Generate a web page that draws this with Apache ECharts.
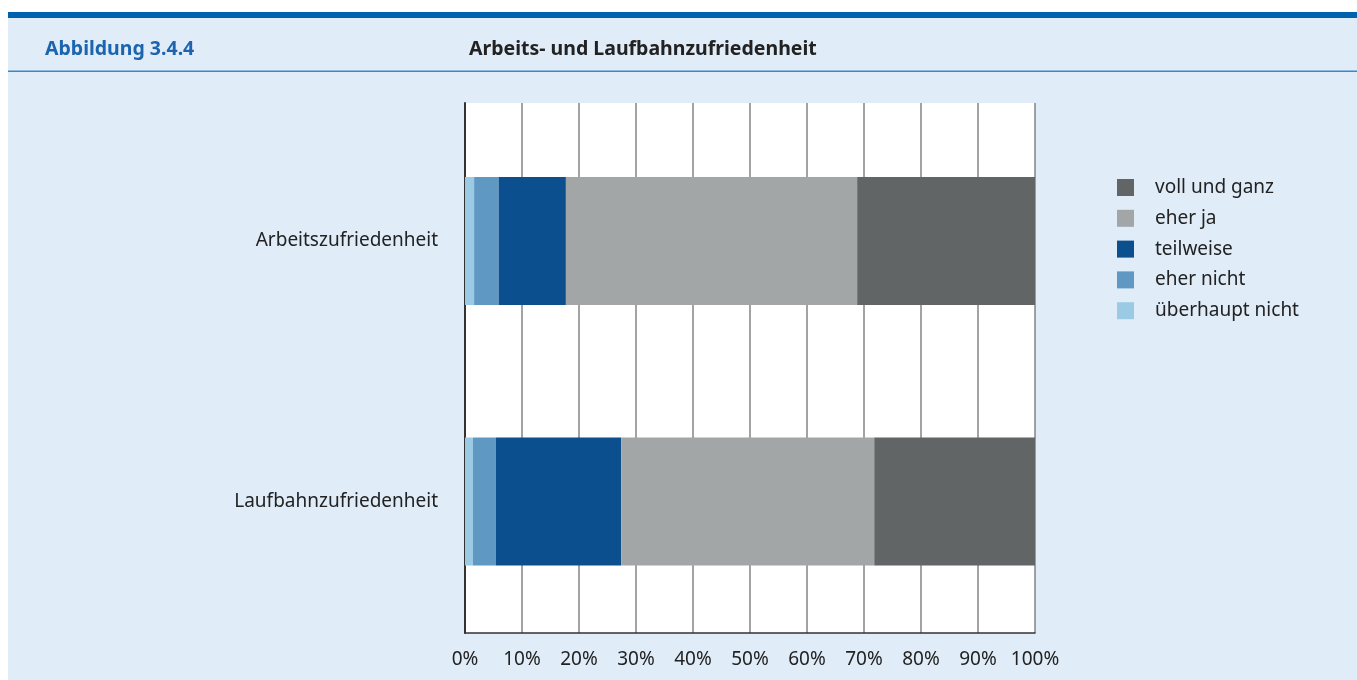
<!DOCTYPE html>
<html>
<head>
<meta charset="utf-8">
<script src="https://cdn.jsdelivr.net/npm/echarts@6/dist/echarts.min.js"></script>
<style>
  html, body { margin: 0; padding: 0; background: #ffffff; }
  #chart { width: 1357px; height: 680px; }
</style>
</head>
<body>
<div id="chart"></div>
<script>
// Survey categories (top to bottom)
const categories = ['Arbeitszufriedenheit', 'Laufbahnzufriedenheit'];

// Shares in percent per answer option, one value per category
const ueberhauptNicht = [1.6, 1.4];
const eherNicht = [4.3, 4.0];
const teilweise = [11.8, 22.0];
const eherJa = [51.1, 44.4];
const vollUndGanz = [31.2, 28.2];

// Axis tick labels
const tickValues = [0, 10, 20, 30, 40, 50, 60, 70, 80, 90, 100];

const FONT = '"Noto Sans", "Open Sans", sans-serif';

const seriesDefs = [
  { name: 'überhaupt nicht', data: ueberhauptNicht, color: '#9bcbe4' },
  { name: 'eher nicht', data: eherNicht, color: '#5f98c2' },
  { name: 'teilweise', data: teilweise, color: '#0b4f8f' },
  { name: 'eher ja', data: eherJa, color: '#a2a6a7' },
  { name: 'voll und ganz', data: vollUndGanz, color: '#616565' }
];

const chart = echarts.init(document.getElementById('chart'), null, { renderer: 'canvas' });

chart.setOption({
  backgroundColor: '#ffffff',
  animation: false,
  graphic: [
    // light blue panel
    { type: 'rect', z: -10, shape: { x: 8, y: 12, width: 1349, height: 668 }, style: { fill: '#e0ecf8' } },
    // top rule
    { type: 'rect', z: -5, shape: { x: 8, y: 12, width: 1349, height: 6 }, style: { fill: '#0062ae' } },
    // divider under the header
    { type: 'rect', z: -5, shape: { x: 8, y: 70.5, width: 1349, height: 1.5 }, style: { fill: '#3b87c9' } },
    { type: 'text', left: 45, top: 39, style: { text: 'Abbildung 3.4.4', fill: '#1c65ae', font: 'bold 19.5px ' + FONT } },
    { type: 'text', left: 469, top: 39, style: { text: 'Arbeits- und Laufbahnzufriedenheit', fill: '#222222', font: 'bold 19.5px ' + FONT } }
  ],
  grid: [
    // frame: white plot area, gridlines and axes
    { left: 465, right: 322, top: 103, bottom: 47, show: true, backgroundColor: '#ffffff', borderWidth: 0 },
    // bars and category labels
    { left: 465, right: 322, top: 110.75, bottom: 48.25, show: false }
  ],
  legend: {
    data: ['voll und ganz', 'eher ja', 'teilweise', 'eher nicht', 'überhaupt nicht'],
    orient: 'vertical',
    left: 1117, top: 178,
    padding: 0,
    itemWidth: 17, itemHeight: 17, itemGap: 11.8,
    icon: 'rect',
    textStyle: { fontFamily: FONT, fontSize: 19, color: '#222222', padding: [0, 0, 0, 16], lineHeight: 17 },
    selectedMode: false
  },
  xAxis: [
    {
      type: 'value', gridIndex: 0,
      min: 0, max: 100, interval: 10,
      axisLine: { show: true, lineStyle: { color: '#333333', width: 1.5 } },
      axisTick: { show: false },
      axisLabel: {
        fontFamily: FONT, fontSize: 19, color: '#222222', margin: 17,
        formatter: function (v) { return tickValues.indexOf(v) >= 0 ? v + '%' : ''; }
      },
      splitLine: { show: true, lineStyle: { color: '#858585', width: 1.5 } }
    },
    {
      type: 'value', gridIndex: 1,
      min: 0, max: 100, interval: 10,
      show: false
    }
  ],
  yAxis: [
    {
      type: 'category', gridIndex: 0,
      data: categories,
      inverse: true,
      axisLine: { show: true, lineStyle: { color: '#333333', width: 2 } },
      axisTick: { show: false },
      axisLabel: { show: false }
    },
    {
      type: 'category', gridIndex: 1,
      data: categories,
      inverse: true,
      axisLine: { show: false },
      axisTick: { show: false },
      axisLabel: { fontFamily: FONT, fontSize: 19, color: '#222222', margin: 27 }
    }
  ],
  series: seriesDefs.map(function (s) {
    return {
      name: s.name,
      type: 'bar',
      stack: 'total',
      xAxisIndex: 1,
      yAxisIndex: 1,
      data: s.data,
      barWidth: 128,
      itemStyle: { color: s.color },
      z: 3
    };
  })
});
</script>
</body>
</html>
